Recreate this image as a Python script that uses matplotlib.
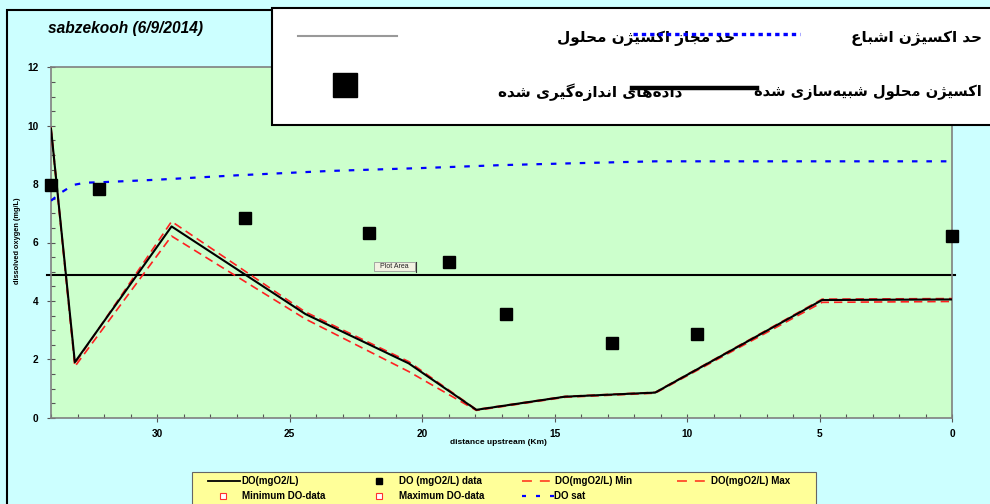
"""DO profile for sabzekooh reach, 6/9/2014 (QUAL2K-style sheet chart)."""

import matplotlib

matplotlib.use("Agg")
import matplotlib.pyplot as plt
from matplotlib.lines import Line2D
from matplotlib.patches import Rectangle
from matplotlib.ticker import MultipleLocator

# ── data ──────────────────────────────────────────────────────────────────────
title = "sabzekooh (6/9/2014)"
sim_km = [34.0, 33.1, 29.45, 24.4, 20.5, 17.95, 14.6, 11.2, 4.9, 0.0]
sim_do = [9.9, 1.9, 6.55, 3.55, 1.86, 0.27, 0.72, 0.86, 4.03, 4.05]
sim_do_min = [9.85, 1.75, 6.22, 3.38, 1.58, 0.25, 0.70, 0.84, 3.95, 3.98]
sim_do_max = [9.95, 1.85, 6.72, 3.62, 1.92, 0.28, 0.73, 0.87, 4.06, 4.08]
sat_km = [34.0, 33.6, 33.16, 32.7, 32.2, 30.0, 27.0, 23.5, 20.0, 17.0, 14.0, 11.2, 0.0]
sat_do = [7.43, 7.72, 7.97, 8.05, 8.06, 8.15, 8.30, 8.45, 8.55, 8.65, 8.72, 8.78, 8.78]
obs_km = [34.0, 32.18, 26.69, 22.0, 18.99, 16.82, 12.83, 9.62, 0.0]
obs_do = [7.97, 7.83, 6.83, 6.32, 5.34, 3.55, 2.55, 2.87, 6.22]
do_standard = 4.9

fa_labels = [
    "حد مجاز اکسیژن محلول",
    "حد اکسیژن اشباع",
    "داده‌های اندازه‌گیری شده",
    "اکسیژن محلول شبیه‌سازی شده",
]
en_labels = [
    "DO(mgO2/L)", "DO (mgO2/L) data", "DO(mgO2/L) Min", "DO(mgO2/L) Max",
    "Minimum DO-data", "Maximum DO-data", "DO sat",
]

# ── style ─────────────────────────────────────────────────────────────────────
W, H = 990, 504
BG = "#CCFFFF"
PLOT_BG = "#CCFFCC"
RED = "#FF2020"
BLUE = "#0000FF"
LATIN = "Liberation Sans"

# presentation forms: isolated, final, initial, medial
_FORMS = {
    "ا": ("\uFE8D", "\uFE8E", None, None),
    "ب": ("\uFE8F", "\uFE90", "\uFE91", "\uFE92"),
    "ج": ("\uFE9D", "\uFE9E", "\uFE9F", "\uFEA0"),
    "ح": ("\uFEA1", "\uFEA2", "\uFEA3", "\uFEA4"),
    "د": ("\uFEA9", "\uFEAA", None, None),
    "ر": ("\uFEAD", "\uFEAE", None, None),
    "ز": ("\uFEAF", "\uFEB0", None, None),
    "س": ("\uFEB1", "\uFEB2", "\uFEB3", "\uFEB4"),
    "ش": ("\uFEB5", "\uFEB6", "\uFEB7", "\uFEB8"),
    "ع": ("\uFEC9", "\uFECA", "\uFECB", "\uFECC"),
    "ل": ("\uFEDD", "\uFEDE", "\uFEDF", "\uFEE0"),
    "م": ("\uFEE1", "\uFEE2", "\uFEE3", "\uFEE4"),
    "ن": ("\uFEE5", "\uFEE6", "\uFEE7", "\uFEE8"),
    "ه": ("\uFEE9", "\uFEEA", "\uFEEB", "\uFEEC"),
    "و": ("\uFEED", "\uFEEE", None, None),
    "ژ": ("\uFB8A", "\uFB8B", None, None),
    "ک": ("\uFB8E", "\uFB8F", "\uFB90", "\uFB91"),
    "گ": ("\uFB92", "\uFB93", "\uFB94", "\uFB95"),
    "ی": ("\uFBFC", "\uFBFD", "\uFBFE", "\uFBFF"),
}


def shape_fa(text):
    """Join Persian letters and flip to visual order (matplotlib has no bidi)."""
    out = []
    for i, ch in enumerate(text):
        forms = _FORMS.get(ch)
        if forms is None:
            out.append(ch)
            continue
        prev = text[i - 1] if i > 0 else ""
        nxt = text[i + 1] if i + 1 < len(text) else ""
        joins_prev = prev in _FORMS and _FORMS[prev][2] is not None
        joins_next = nxt in _FORMS and forms[2] is not None
        if joins_prev and joins_next:
            out.append(forms[3])
        elif joins_prev:
            out.append(forms[1])
        elif joins_next:
            out.append(forms[2])
        else:
            out.append(forms[0])
    return "".join(out).replace("\u200c", "")[::-1]


def fx(px):
    return px / W


def fy(py):
    return 1 - py / H


fig = plt.figure(figsize=(W / 100, H / 100), dpi=100)
fig.patch.set_facecolor(BG)

ax = fig.add_axes([fx(51), fy(417.7), (952 - 51) / W, (417.7 - 67.3) / H])
ax.set_facecolor(PLOT_BG)
ax.set_xlim(34, 0)
ax.set_ylim(0, 12)

# ── series ────────────────────────────────────────────────────────────────────
ax.plot([34.16, -0.11], [do_standard, do_standard], color="black", lw=1.5,
        clip_on=False, zorder=2)
ax.plot(sat_km, sat_do, color=BLUE, lw=1.6, dashes=(2.5, 4), zorder=3)
ax.plot(sim_km, sim_do_min, color=RED, lw=1.2, dashes=(5, 3), zorder=3)
ax.plot(sim_km, sim_do_max, color=RED, lw=1.2, dashes=(5, 3), zorder=3)
ax.plot(sim_km, sim_do, color="black", lw=1.5, zorder=4)
ax.plot(obs_km, obs_do, "s", color="black", ms=8.5, clip_on=False, zorder=5)

# ── axes cosmetics ────────────────────────────────────────────────────────────
ax.xaxis.set_major_locator(MultipleLocator(5))
ax.xaxis.set_minor_locator(MultipleLocator(1))
ax.yaxis.set_major_locator(MultipleLocator(2))
ax.yaxis.set_minor_locator(MultipleLocator(0.5))
for s in ax.spines.values():
    s.set_color("#808080")
    s.set_linewidth(1.2)
ax.tick_params(which="major", direction="inout", length=6, width=0.8,
               color="#555555", labelsize=7.3)
ax.tick_params(which="minor", direction="in", length=3, width=0.8, color="#555555")
ax.tick_params(axis="x", pad=5)
ax.tick_params(axis="y", pad=6)
for lbl in ax.get_xticklabels() + ax.get_yticklabels():
    lbl.set_fontweight("bold")
    lbl.set_fontfamily(LATIN)

fig.text(fx(498), fy(442), "distance upstream (Km)", ha="center", va="center",
         fontsize=6, fontweight="bold", family=LATIN)
fig.text(fx(18), fy(241), "dissolved oxygen (mg/L)", ha="center", va="center",
         rotation=90, fontsize=5.3, fontweight="bold", family=LATIN)
fig.text(fx(48), fy(29), title, ha="left", va="center", fontsize=11.2,
         fontweight="bold", style="italic", family=LATIN)

# "Plot Area" tooltip left over from the spreadsheet
fig.add_artist(Rectangle((fx(374), fy(271)), 41 / W, 9.5 / H, transform=fig.transFigure,
                         facecolor="#F2F2E2", edgecolor="#9A9A9A", lw=0.6, zorder=6))
fig.add_artist(Line2D([fx(415.5)] * 2, [fy(262), fy(272)], transform=fig.transFigure,
                      color="#333333", lw=0.8, zorder=6))
fig.text(fx(394.5), fy(266.5), "Plot Area", ha="center", va="center", fontsize=5,
         family=LATIN, color="#222222", zorder=7)

# ── outer frame ───────────────────────────────────────────────────────────────
fig.add_artist(Rectangle((fx(7), -0.1), 1.2, fy(10) + 0.1, transform=fig.transFigure,
                         fill=False, edgecolor="black", lw=1.5, zorder=4))

# ── Persian legend (top right) ────────────────────────────────────────────────
fig.add_artist(Rectangle((fx(272), fy(125)), 1.0, 117 / H, transform=fig.transFigure,
                         facecolor="white", edgecolor="black", lw=1.5, zorder=5))
fa_kw = dict(ha="right", va="center", fontsize=11, fontweight="bold",
             family=["DejaVu Sans"], zorder=6)
fig.text(fx(735), fy(38), shape_fa(fa_labels[0]), **fa_kw)
fig.text(fx(982), fy(38), shape_fa(fa_labels[1]), **fa_kw)
fig.text(fx(682), fy(92), shape_fa(fa_labels[2]), **fa_kw)
fig.text(fx(982), fy(92), shape_fa(fa_labels[3]), fontsize=10.5,
         **{k: v for k, v in fa_kw.items() if k != "fontsize"})
fig.add_artist(Line2D([fx(298), fx(397)], [fy(36)] * 2, transform=fig.transFigure,
                      color="#999999", lw=1.5, zorder=7))
fig.add_artist(Line2D([fx(633), fx(800)], [fy(34)] * 2, transform=fig.transFigure,
                      color=BLUE, lw=2.4, dashes=(1.3, 1.2), zorder=7))
fig.add_artist(Line2D([fx(632), fx(757)], [fy(88)] * 2, transform=fig.transFigure,
                      color="black", lw=3.2, zorder=7))
fig.add_artist(Line2D([fx(344.5)], [fy(85)], transform=fig.transFigure, marker="s",
                      ms=17.5, color="black", ls="none", zorder=7))

# ── English legend (bottom) ───────────────────────────────────────────────────
fig.add_artist(Rectangle((fx(191.7), -0.1), 624 / W, (504 - 472.3) / H + 0.1,
                         transform=fig.transFigure, facecolor="#FFFF99",
                         edgecolor="#666666", lw=0.8, zorder=5))
en_kw = dict(ha="left", va="center", fontsize=7, fontweight="bold", family=LATIN,
             zorder=6)
r1, r2 = fy(480.7), fy(496)
fig.text(fx(241), r1, en_labels[0], **en_kw)
fig.text(fx(399), r1, en_labels[1], **en_kw)
fig.text(fx(555), r1, en_labels[2], **en_kw)
fig.text(fx(710.7), r1, en_labels[3], **en_kw)
fig.text(fx(242.3), r2, en_labels[4], **en_kw)
fig.text(fx(399), r2, en_labels[5], **en_kw)
fig.text(fx(554.3), r2, en_labels[6], **en_kw)
fig.add_artist(Line2D([fx(208.3), fx(240)], [r1] * 2, transform=fig.transFigure,
                      color="black", lw=1.3, zorder=6))
fig.add_artist(Line2D([fx(379.3)], [r1], transform=fig.transFigure, marker="s", ms=5,
                      color="black", ls="none", zorder=6))
for x0 in (521.7, 676.7):
    fig.add_artist(Line2D([fx(x0), fx(x0 + 28)], [r1] * 2, transform=fig.transFigure,
                          color="#FF4A2A", lw=1.3, dashes=(5.5, 4.4), zorder=6))
fig.add_artist(Line2D([fx(521.7), fx(553.5)], [r2] * 2, transform=fig.transFigure,
                      color=BLUE, lw=1.6, dashes=(1.8, 4.5), zorder=6))
for x0 in (223.3, 379.3):
    fig.add_artist(Line2D([fx(x0)], [r2], transform=fig.transFigure, marker="s", ms=5,
                          mfc="white", mec="#FF3030", mew=0.8, ls="none", zorder=6))

fig.savefig("out.png", dpi=100, facecolor=fig.get_facecolor())
